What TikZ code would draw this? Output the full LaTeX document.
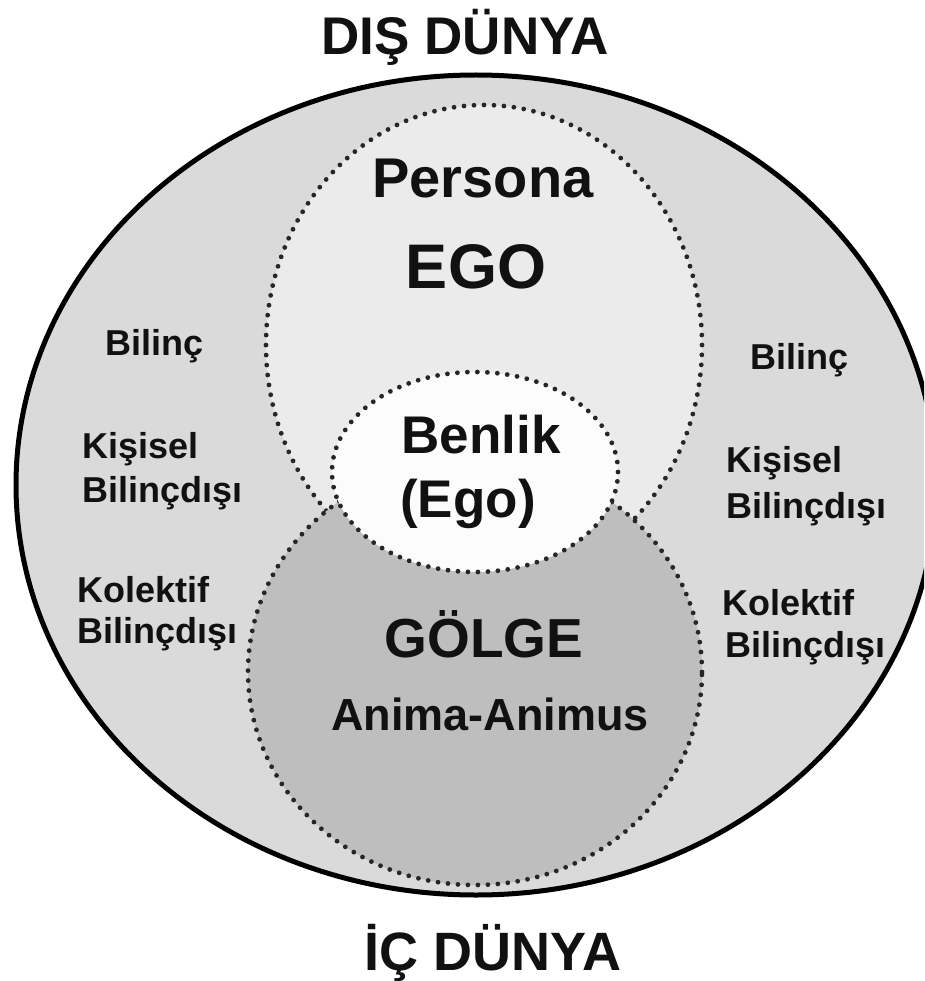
\documentclass[tikz,border=0pt]{standalone}
\usepackage{fontspec}
\setmainfont{Liberation Sans}
\usetikzlibrary{shapes.geometric}
\definecolor{outerfill}{HTML}{DADADA}
\definecolor{upperfill}{HTML}{EBEBEB}
\definecolor{lowerfill}{HTML}{BEBEBE}
\definecolor{selffill}{HTML}{FCFCFC}
\definecolor{dotcol}{HTML}{262626}
\definecolor{txt}{HTML}{111111}
\tikzset{
  dotline/.style={draw=dotcol, line width=4.8pt, dash pattern=on 0pt off 10pt, line cap=round},
  zone/.style={ellipse, inner sep=0pt, outer sep=0pt},
  lbl/.style={inner sep=0pt, text=txt, font=\bfseries\fontsize{#1}{#1}\selectfont},
  side/.style={lbl=36, anchor=base west},
  mid/.style={lbl=#1, anchor=base}
}
\begin{document}
\begin{tikzpicture}[x=1pt,y=-1pt]
\useasboundingbox (0,0) rectangle (924,981);
\fill[white] (0,0) rectangle (924,981);
\begin{scope}
\clip (0,0) rectangle (924,981);
\node[zone, fill=outerfill, draw=black, line width=5pt, minimum width=920pt, minimum height=820pt] (outer) at (476,485) {};
\end{scope}
\node[zone, fill=upperfill, dotline, minimum width=436pt, minimum height=480pt] (persona) at (484,345) {};
\node[zone, fill=lowerfill, dotline, minimum width=454pt, minimum height=426pt] (golge) at (475,672) {};
\node[zone, fill=selffill, dotline, minimum width=286pt, minimum height=200pt] (benlik) at (475,472) {};

\node[mid=53] (dis) at (465,55) {DIŞ DÜNYA};
\node[mid=54] (ic) at (493,970) {İÇ DÜNYA};
\node[mid=56] (tPersona) at (483,198) {Persona};
\node[mid=63] (tEgo) at (476,288) {EGO};
\node[mid=53] (tBenlik) at (481,453) {Benlik};
\node[mid=53] (tEgoP) at (468,517) {(Ego)};
\node[mid=55] (tGolge) at (484,657) {GÖLGE};
\node[mid=45] (tAnima) at (490,730) {Anima-Animus};

\node[side] (lB) at (105,355) {Bilinç};
\node[side] (lK1) at (82,458) {Kişisel};
\node[side] (lK2) at (82,502) {Bilinçdışı};
\node[side] (lC1) at (77,602) {Kolektif};
\node[side] (lC2) at (77,643) {Bilinçdışı};

\node[side] (rB) at (750,369) {Bilinç};
\node[side] (rK1) at (726,472) {Kişisel};
\node[side] (rK2) at (726,518) {Bilinçdışı};
\node[side] (rC1) at (722,615) {Kolektif};
\node[side] (rC2) at (725,657) {Bilinçdışı};
\end{tikzpicture}
\end{document}
